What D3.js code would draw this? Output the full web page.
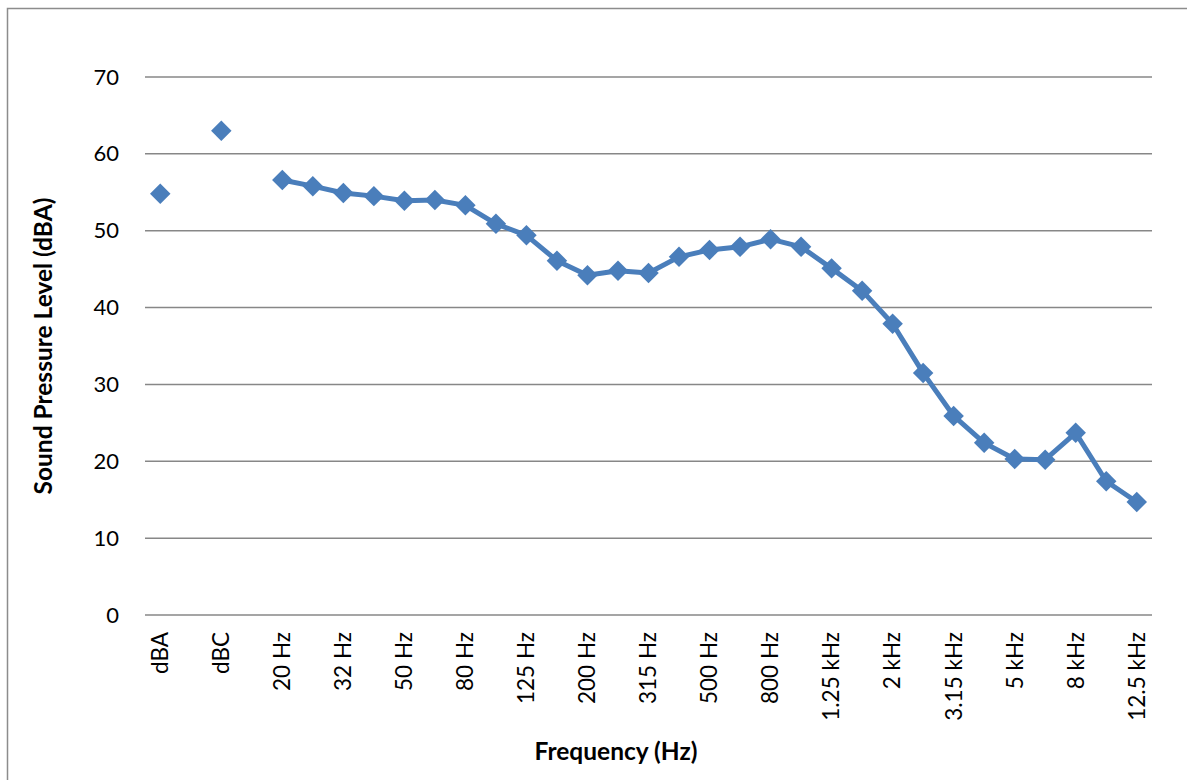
<!DOCTYPE html>
<html><head><meta charset="utf-8">
<script src="https://cdn.jsdelivr.net/npm/d3@7"></script>
<style>body{margin:0;background:#fff}svg{display:block}text{font-family:Lato,"Open Sans",sans-serif}</style>
</head><body><svg id="c" width="1187" height="780"></svg>
<script>
const categories = ["dBA","","dBC","","20 Hz","25 Hz","32 Hz","40 Hz","50 Hz","63 Hz","80 Hz","100 Hz","125 Hz","160 Hz","200 Hz","250 Hz","315 Hz","400 Hz","500 Hz","630 Hz","800 Hz","1 kHz","1.25 kHz","1.6 kHz","2 kHz","2.5 kHz","3.15 kHz","4 kHz","5 kHz","6.3 kHz","8 kHz","10 kHz","12.5 kHz"];
const values = [54.8,null,63.0,null,56.6,55.8,54.9,54.5,53.9,54.0,53.3,50.9,49.4,46.1,44.2,44.8,44.5,46.6,47.5,47.9,48.9,47.9,45.1,42.2,37.9,31.5,25.9,22.4,20.3,20.2,23.7,17.4,14.7];
const yTicks = [0,10,20,30,40,50,60,70];
const xTitle = "Frequency (Hz)";
const yTitle = "Sound Pressure Level (dBA)";

const svg = d3.select("#c");
const L = 145, R = 1152, T = 77, B = 615;
const x = d3.scaleBand().domain(d3.range(categories.length)).range([L, R]);
const y = d3.scaleLinear().domain([0,70]).range([B, T]);
const FF = "Lato,'Open Sans',sans-serif";

svg.append("rect").attr("x",7.5).attr("y",8.5).attr("width",1190).attr("height",800)
  .attr("fill","none").attr("stroke","#8c8c8c").attr("stroke-width",1.5);

svg.append("g").selectAll("line").data(yTicks).join("line")
  .attr("x1",L).attr("x2",R).attr("y1",d=>y(d)).attr("y2",d=>y(d))
  .attr("stroke","#878787").attr("stroke-width",1.5);

const yAxis = d3.axisLeft(y).tickValues(yTicks).tickSize(0).tickPadding(26);
const gy = svg.append("g").attr("transform",`translate(${L},0)`).call(yAxis);
gy.select(".domain").remove();
gy.selectAll("text").attr("font-size",22).attr("fill","#000").attr("font-family",FF);

const xAxis = d3.axisBottom(x).tickSize(0).tickFormat(i=>categories[i])
  .tickValues(d3.range(categories.length).filter(i=>i%2===0));
const gx = svg.append("g").attr("transform",`translate(0,${B})`).call(xAxis);
gx.select(".domain").remove();
gx.selectAll("text").attr("font-size",22.5).attr("fill","#000").attr("font-family",FF)
  .attr("transform","rotate(-90)").attr("text-anchor","end").attr("dy","0.35em")
  .attr("x",-17).attr("y",0);

const cx = i => x(i) + x.bandwidth()/2;
const line = d3.line().defined(d=>d!=null).x((d,i)=>cx(i)).y(d=>y(d));
const lineData = values.map((v,i)=> i<4 ? null : v);
svg.append("path").datum(lineData).attr("d",line).attr("fill","none")
  .attr("stroke","#4a7ebb").attr("stroke-width",5).attr("stroke-linejoin","round");

svg.append("g").selectAll("path").data(values.map((v,i)=>({v,i})).filter(d=>d.v!=null)).join("path")
  .attr("d",d3.symbol().type(d3.symbolSquare).size(210))
  .attr("transform",d=>`translate(${cx(d.i)},${y(d.v)}) rotate(45)`)
  .attr("fill","#4a7ebb");

svg.append("text").attr("x",616).attr("y",760).attr("text-anchor","middle")
  .attr("font-size",24.5).attr("font-weight","bold").text(xTitle);
svg.append("text").attr("transform",`translate(52,346) rotate(-90)`).attr("text-anchor","middle")
  .attr("font-size",24.5).attr("font-weight","bold").text(yTitle);
</script></body></html>
